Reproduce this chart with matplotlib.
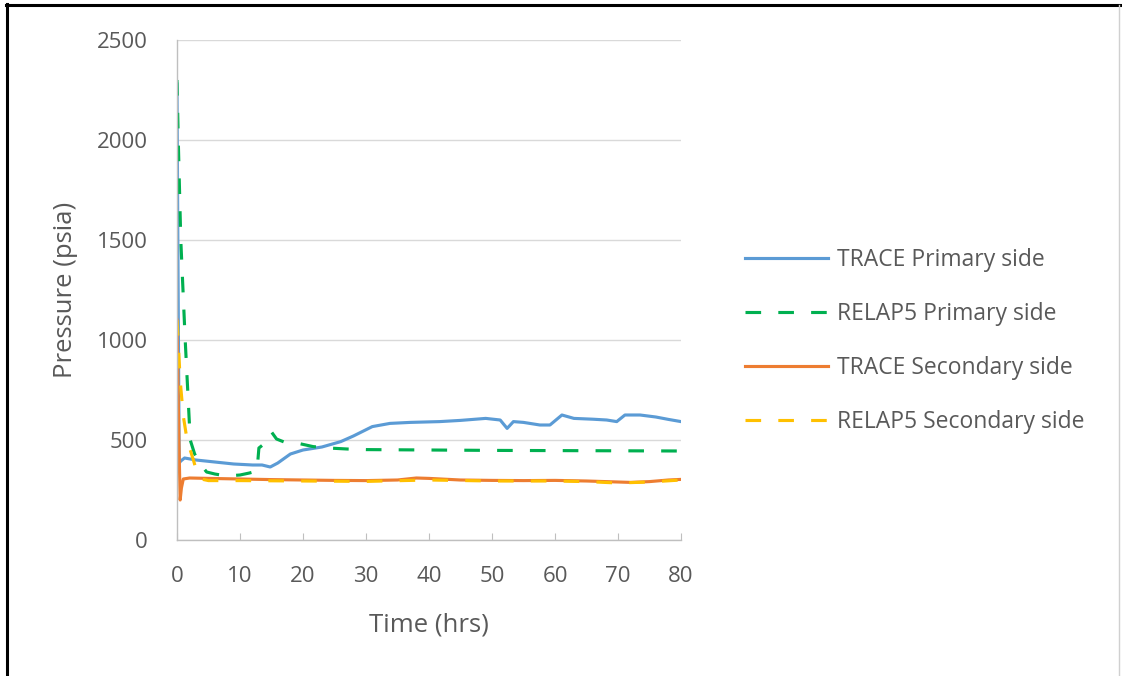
import matplotlib.pyplot as plt
from matplotlib.lines import Line2D

plt.rcParams['font.family'] = ['Open Sans', 'DejaVu Sans']

# TRACE primary side pressure
tracePriT = [0, 0.15, 0.35, 0.6, 1.2, 3, 6, 9, 12, 13.5, 14.8, 16, 18, 20, 23, 26,
             28, 31, 33.8, 37, 41.7, 45, 49, 51.3, 52.4, 53.4, 55, 57.6, 59.2, 61.1,
             63, 66, 68.2, 69.8, 71.1, 73.5, 76, 78, 80]
tracePriP = [2280, 1400, 385, 395, 410, 400, 390, 380, 375, 375, 365, 385, 430, 450, 465, 492,
             520, 567, 583, 588, 592, 598, 608, 600, 558, 592, 588, 575, 575, 625,
             608, 604, 600, 592, 625, 625, 615, 603, 592]

# RELAP5 primary side pressure
relapPriT = [0, 0.2, 0.6, 1.3, 2.1, 2.8, 3.7, 4.7, 6, 7.9, 10, 11.5, 12.7, 13.0, 13.6,
             14.5, 15.0, 15.8, 17, 19, 21.6, 24, 27, 30, 40, 50, 60, 70, 80]
relapPriP = [2300, 2000, 1500, 1000, 500, 430, 380, 340, 330, 320, 325, 335, 345, 460, 475,
             520, 540, 505, 490, 485, 467, 460, 455, 452, 450, 448, 447, 446, 445]

# TRACE secondary side pressure
traceSecT = [0, 0.1, 0.3, 0.5, 0.7, 1.0, 2, 5, 10, 15, 20, 25, 30, 35, 38, 40, 45, 50,
             55, 60, 65, 70, 72, 75, 78, 80]
traceSecP = [1100, 900, 500, 200, 260, 305, 310, 308, 305, 302, 300, 298, 297, 300, 310, 308, 300, 298,
             297, 298, 295, 290, 288, 292, 300, 303]

# RELAP5 secondary side pressure
relapSecT = [0, 0.1, 0.5, 1.0, 1.6, 2.6, 3.2, 3.8, 5, 10, 20, 30, 40, 50, 60, 65, 70, 75, 80]
relapSecP = [1100, 1050, 800, 620, 500, 400, 335, 305, 297, 297, 295, 293, 300, 295, 295, 292, 285, 290, 300]

labels = ['TRACE Primary side', 'RELAP5 Primary side',
          'TRACE Secondary side', 'RELAP5 Secondary side']
xTicks = [0, 10, 20, 30, 40, 50, 60, 70, 80]
yTicks = [0, 500, 1000, 1500, 2000, 2500]

txtColor = '#595959'
fig = plt.figure(figsize=(11.22, 6.76), dpi=100)
ax = fig.add_axes([177/1122, 1 - 540/676, 504/1122, 500/676])

dash = (5, 5.5)
ax.plot(tracePriT, tracePriP, color='#5B9BD5', lw=2.25, label=labels[0])
ax.plot(relapPriT, relapPriP, color='#00B050', lw=2.25, dashes=dash, label=labels[1])
ax.plot(traceSecT, traceSecP, color='#ED7D31', lw=2.25, label=labels[2])
ax.plot(relapSecT, relapSecP, color='#FFC000', lw=2.25, dashes=dash, label=labels[3])

ax.set_xlim(0, 80)
ax.set_ylim(0, 2500)
ax.set_xticks(xTicks)
ax.set_yticks(yTicks)
ax.yaxis.grid(True, color='#D9D9D9', lw=1)
ax.set_axisbelow(True)
for s in ['top', 'right']:
    ax.spines[s].set_visible(False)
for s in ['left', 'bottom']:
    ax.spines[s].set_color('#BFBFBF')
    ax.spines[s].set_linewidth(1)
ax.tick_params(axis='x', direction='in', length=5, color='#BFBFBF', pad=19,
               labelsize=16, labelcolor=txtColor)
ax.tick_params(axis='y', length=0, pad=21, labelsize=16, labelcolor=txtColor)

ax.set_xlabel('Time (hrs)', fontsize=18.5, color=txtColor)
ax.xaxis.set_label_coords(0.5, -0.146)
ax.set_ylabel('Pressure (psia)', fontsize=18.5, color=txtColor)
ax.yaxis.set_label_coords(-0.196, 0.5)

fig.legend(loc='center left', bbox_to_anchor=(745/1122, 1 - 341/676), frameon=False,
           fontsize=16.5, handlelength=3.6, handletextpad=0.4, labelspacing=1.3,
           borderpad=0, borderaxespad=0, labelcolor=txtColor)

# outer frame
fig.add_artist(Line2D([6.5/1122, 6.5/1122], [0, 1 - 4/676], color='black', lw=2.2,
                      transform=fig.transFigure))
fig.add_artist(Line2D([6/1122, 1], [1 - 4.5/676, 1 - 4.5/676], color='black', lw=2.2,
                      transform=fig.transFigure))
fig.add_artist(Line2D([1119/1122, 1119/1122], [0, 1 - 5/676], color='#D0D0D0', lw=1,
                      transform=fig.transFigure))

fig.savefig('out.png', dpi=100)
